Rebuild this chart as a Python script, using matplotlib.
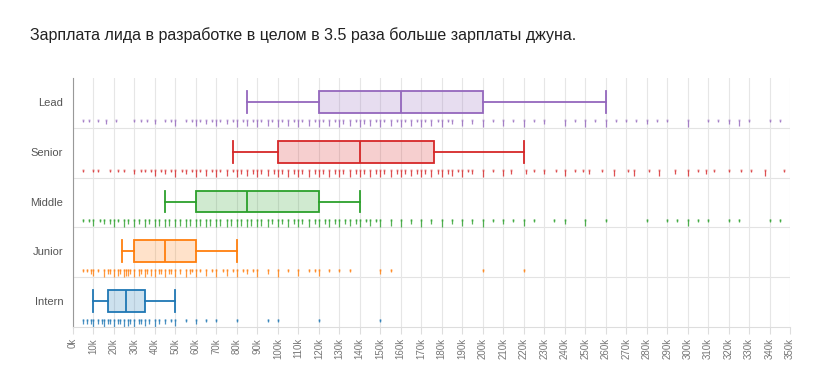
import numpy as np
import matplotlib
matplotlib.use("Agg")
import matplotlib.pyplot as plt

plt.rcParams['font.family'] = ['Liberation Sans', 'DejaVu Sans']

TITLE = "Зарплата лида в разработке в целом в 3.5 раза больше зарплаты джуна."

# уровни снизу вверх
levels = ["Intern", "Junior", "Middle", "Senior", "Lead"]
colors = ["#1f77b4", "#ff7f0e", "#2ca02c", "#d62728", "#9467bd"]

# квартили и усы, тыс. руб.
whis_lo = [10, 24, 45, 78, 85]
q1 = [17, 30, 60, 100, 120]
median = [26, 45, 85, 140, 160]
q3 = [35, 60, 120, 176, 200]
whis_hi = [50, 80, 140, 220, 260]

# отдельные ответы (значение, тыс. руб. / число ответов)
intern_k = [5, 7, 9, 10, 12, 14, 15, 17, 18, 20, 22, 23, 25, 27, 28, 30, 32, 33, 35, 37, 40, 42, 45, 48, 50,
            55, 60, 65, 70, 80, 95, 100, 120, 150]
intern_n = [2, 2, 2, 4, 2, 2, 4, 2, 2, 5, 2, 2, 4, 3, 2, 5, 2, 2, 3, 2, 4, 2, 2, 1, 3,
            1, 2, 1, 1, 1, 1, 1, 1, 1]

junior_k = [5, 7, 9, 10, 12, 15, 17, 18, 20, 22, 23, 25, 26, 27, 28, 30, 32, 33, 35, 36, 38, 40, 42, 43, 45, 47,
            48, 50, 52, 55, 57, 58, 60, 62, 65, 68, 70, 73, 75, 78, 80, 83, 85, 88, 90, 95, 100, 105, 110,
            115, 118, 120, 125, 130, 135, 150, 155, 200, 220]
junior_n = [1, 1, 2, 3, 1, 4, 2, 2, 5, 3, 2, 5, 3, 3, 2, 6, 3, 2, 5, 2, 3, 6, 2, 2, 5, 2,
            2, 6, 2, 4, 2, 1, 5, 1, 3, 1, 4, 1, 3, 1, 5, 1, 2, 1, 4, 2, 4, 1, 3,
            1, 1, 3, 1, 1, 1, 2, 1, 1, 1]

middle_k = [5, 8, 10, 13, 15, 18, 20, 22, 25, 27, 30, 32, 35, 37, 40, 42, 45, 47, 50, 52, 55, 57, 60, 62, 65,
            67, 70, 72, 75, 77, 80, 82, 85, 87, 90, 92, 95, 97, 100, 102, 105, 108, 110, 112, 115, 118, 120,
            123, 125, 128, 130, 133, 135, 138, 140, 143, 145, 148, 150, 155, 160, 165, 170, 175, 180, 185,
            190, 195, 200, 205, 210, 215, 220, 225, 235, 240, 250, 260, 280, 290, 295, 300, 305, 310, 320,
            325, 340, 345]
middle_n = [1, 1, 3, 1, 2, 2, 4, 1, 4, 2, 5, 2, 4, 2, 6, 3, 5, 3, 6, 3, 5, 3, 6, 3, 5,
            3, 6, 3, 5, 3, 6, 3, 5, 3, 6, 3, 5, 2, 6, 2, 5, 2, 6, 2, 4, 2, 6,
            2, 4, 2, 5, 2, 3, 2, 5, 1, 3, 1, 5, 3, 4, 2, 4, 2, 4, 2,
            3, 2, 4, 1, 2, 1, 3, 1, 1, 2, 3, 1, 1, 1, 1, 3, 1, 1, 1,
            1, 1, 1]

senior_k = [5, 10, 12, 18, 22, 25, 30, 33, 35, 38, 40, 43, 45, 48, 50, 53, 55, 58, 60, 62, 65, 68, 70, 72, 75,
            78, 80, 82, 85, 88, 90, 92, 95, 98, 100, 102, 105, 108, 110, 112, 115, 118, 120, 122, 125, 128,
            130, 132, 135, 138, 140, 142, 145, 148, 150, 152, 155, 158, 160, 162, 165, 168, 170, 172, 175,
            178, 180, 183, 185, 188, 190, 193, 195, 200, 205, 210, 214, 221, 225, 230, 236, 240, 245, 249,
            252, 258, 264, 271, 274, 281, 286, 294, 300, 305, 309, 313, 320, 326, 331, 338, 347]
senior_n = [1, 1, 1, 1, 1, 1, 2, 1, 1, 1, 3, 1, 2, 1, 4, 1, 2, 1, 4, 1, 3, 1, 4, 1, 3,
            1, 5, 2, 3, 2, 5, 2, 3, 2, 6, 2, 4, 2, 5, 2, 4, 2, 6, 2, 4, 2,
            5, 2, 4, 2, 6, 2, 4, 2, 6, 2, 4, 2, 5, 2, 3, 2, 5, 2, 4,
            2, 5, 2, 3, 1, 4, 1, 2, 5, 1, 3, 2, 2, 1, 2, 1, 3, 1, 1,
            2, 1, 3, 1, 3, 1, 3, 2, 3, 1, 2, 1, 1, 1, 1, 3, 1]

lead_k = [5, 8, 12, 16, 21, 30, 33, 36, 40, 45, 48, 50, 55, 58, 60, 62, 65, 68, 70, 72, 75, 78, 80, 83, 85,
          88, 90, 92, 95, 97, 100, 102, 105, 108, 110, 112, 115, 118, 120, 122, 125, 128, 130, 132, 135,
          138, 140, 142, 145, 148, 150, 152, 155, 158, 160, 162, 165, 168, 170, 172, 175, 178, 180, 183,
          185, 190, 195, 200, 205, 210, 215, 220, 225, 230, 240, 245, 250, 255, 260, 265, 270, 275, 280,
          285, 290, 300, 310, 315, 320, 325, 330, 340, 345]
lead_n = [1, 1, 1, 2, 1, 1, 1, 1, 2, 1, 1, 3, 1, 1, 3, 1, 2, 1, 3, 1, 2, 1, 4, 1, 3,
          1, 4, 1, 3, 1, 5, 1, 3, 1, 4, 1, 3, 1, 5, 1, 3, 1, 5, 2, 3,
          1, 4, 2, 3, 1, 5, 1, 3, 1, 5, 1, 3, 1, 4, 1, 3, 1, 4, 1,
          2, 3, 2, 5, 1, 3, 1, 4, 1, 2, 3, 1, 4, 1, 4, 1, 1, 1, 2,
          1, 1, 4, 1, 1, 2, 3, 1, 1, 1]

rug_k = [intern_k, junior_k, middle_k, senior_k, lead_k]
rug_n = [intern_n, junior_n, middle_n, senior_n, lead_n]

fig = plt.figure(figsize=(8.28, 3.8), dpi=100)
ax = fig.add_axes([73 / 828, 53 / 380, 717 / 828, 249 / 380])

fig.text(30 / 828, 1 - 35 / 380, TITLE, fontsize=11.5, color="#222222", va="center")

box_pos = 0.52
box_w = 0.44
rug_top = 0.16

for i, lvl in enumerate(levels):
    c = colors[i]
    stats = [dict(whislo=whis_lo[i], q1=q1[i], med=median[i], q3=q3[i], whishi=whis_hi[i], fliers=[])]
    bp = ax.bxp(stats, positions=[i + box_pos], widths=box_w, capwidths=box_w,
                orientation="horizontal", patch_artist=True, showfliers=False, manage_ticks=False)
    for b in bp["boxes"]:
        b.set_facecolor(matplotlib.colors.to_rgba(c, 0.22))
        b.set_edgecolor(c)
        b.set_linewidth(1.3)
    for part in ("whiskers", "caps", "medians"):
        for ln in bp[part]:
            ln.set_color(c)
            ln.set_linewidth(1.3)
    # засечки с ответами: длина по числу ответов
    vals = np.array(rug_k[i])
    cnt = np.array(rug_n[i])
    top = i + rug_top
    length = np.minimum(0.05 + 0.04 * (cnt - 1), 0.15)
    ax.vlines(vals, top - length, top, color=c, alpha=0.8, linewidth=0.9)
    ax.plot(vals, np.full(len(vals), top - 0.01), "s", ms=1.4, color=c, alpha=0.5, mew=0)
    # линия-разделитель строки
    if i > 0:
        ax.axhline(i, color="#e3e3e3", linewidth=0.8, zorder=0)

ax.set_xlim(0, 350)
ax.set_ylim(0, 5)
xt = np.arange(0, 351, 10)
ax.set_xticks(xt)
ax.set_xticklabels([f"{v}k" for v in xt], rotation=90, fontsize=7, color="#777777")
ax.tick_params(axis="x", length=5, color="#dddddd", pad=3)
ax.grid(axis="x", color="#e6e6e6", linewidth=0.8, zorder=0)
ax.set_axisbelow(True)

ax.set_yticks([i + box_pos for i in range(len(levels))])
ax.set_yticklabels(levels, fontsize=8, color="#555555")
ax.tick_params(axis="y", length=0, pad=7)

ax.spines["top"].set_visible(False)
ax.spines["right"].set_visible(False)
ax.spines["left"].set_color("#999999")
ax.spines["bottom"].set_color("#dddddd")

fig.savefig("out.png", dpi=100, facecolor="white")
